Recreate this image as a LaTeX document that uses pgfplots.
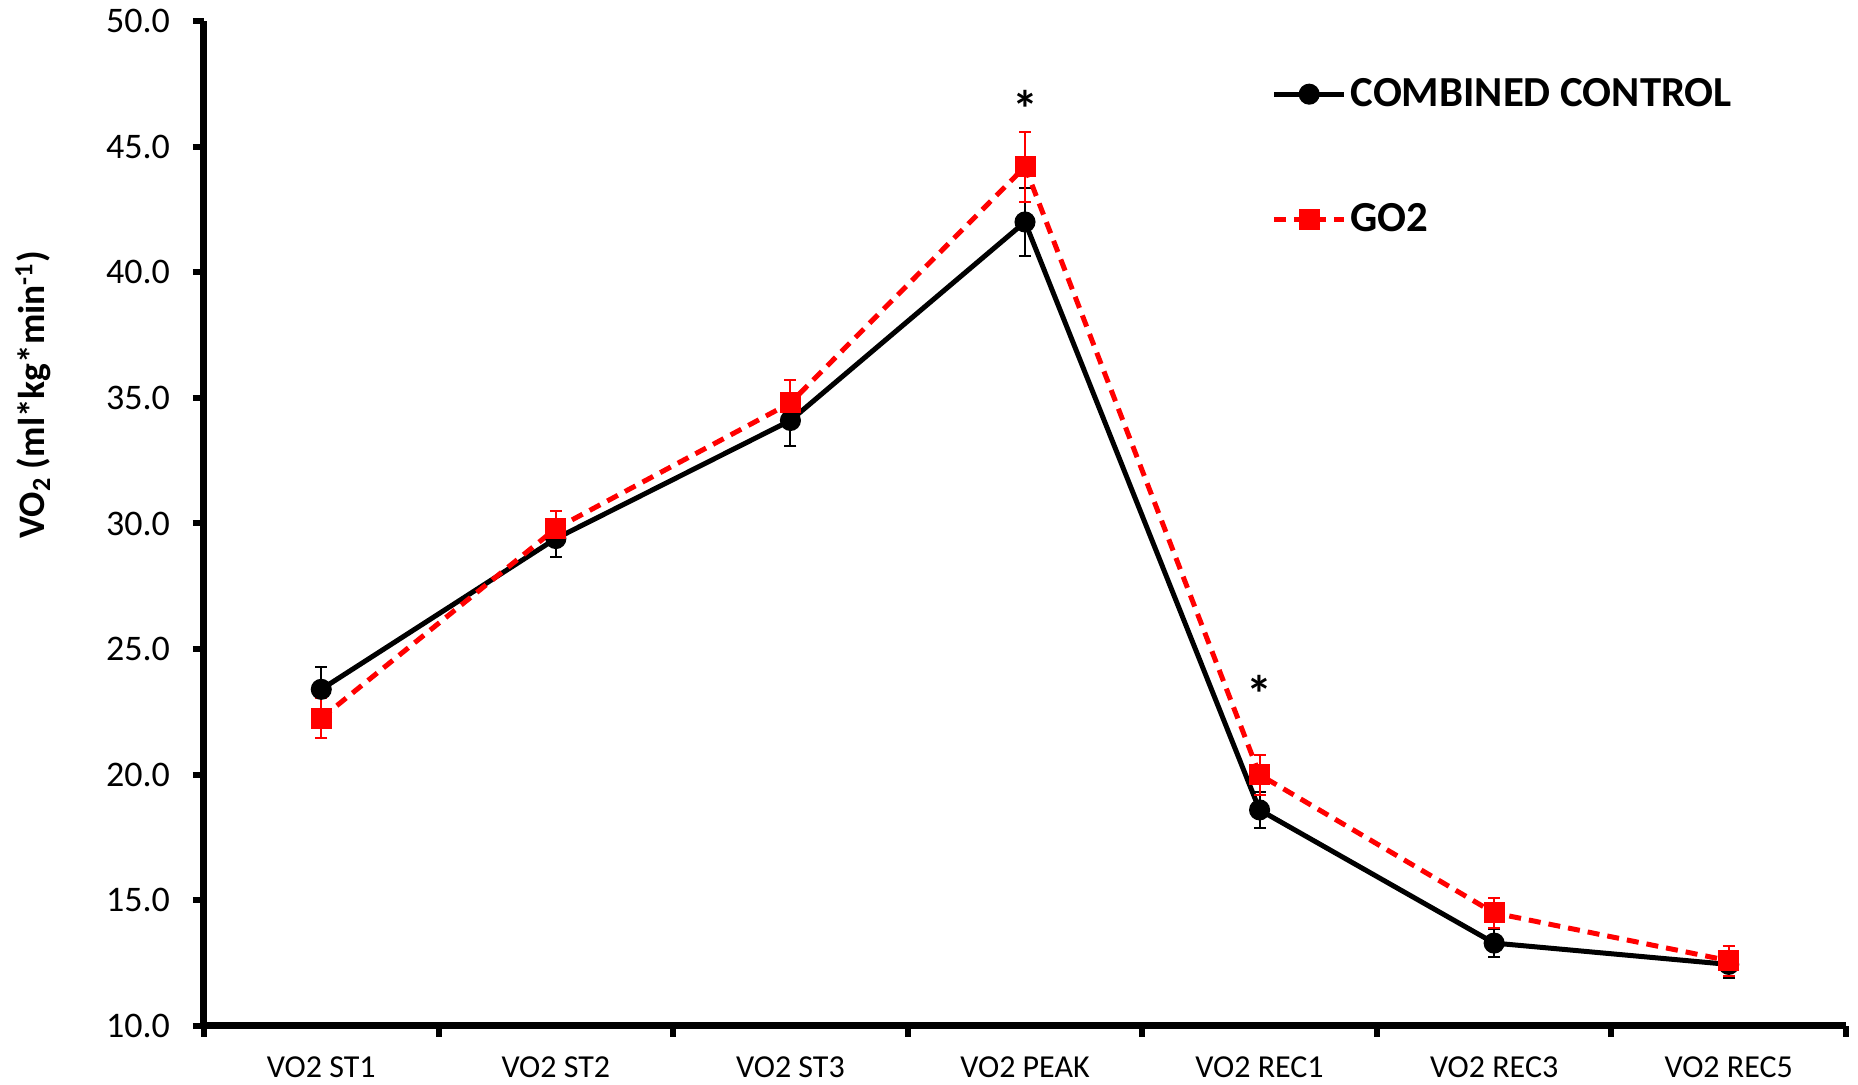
\documentclass[border=0pt]{standalone}
\usepackage{fontspec}
\setmainfont{Carlito}
\usepackage{pgfplots}
\usepackage{pgfplotstable}
\pgfplotsset{compat=1.18}

% VO2 by stage: mean and error (SEM)
\pgfplotstableread{
x  y     e
0  23.4  0.90
1  29.4  0.75
2  34.1  1.00
3  42.0  1.35
4  18.6  0.70
5  13.3  0.55
6  12.45 0.55
}\controldata

\pgfplotstableread{
x  y     e
0  22.25 0.80
1  29.8  0.70
2  34.8  0.90
3  44.2  1.40
4  20.0  0.80
5  14.5  0.60
6  12.6  0.60
}\gotwodata

\begin{document}
\begin{tikzpicture}
\path[use as bounding box] (-102pt,-29.5pt) rectangle (827pt,513pt);
\begin{axis}[
  at={(0pt,0pt)}, anchor=south west,
  scale only axis, width=821pt, height=502.5pt,
  xmin=-0.5, xmax=6.5, ymin=10, ymax=50,
  axis x line=bottom, axis y line=left,
  axis line style={line width=3.5pt, black, -},
  every outer x axis line/.append style={-},
  every outer y axis line/.append style={-},
  xtick={0,...,6},
  xticklabels={VO2 ST1, VO2 ST2, VO2 ST3, VO2 PEAK, VO2 REC1, VO2 REC3, VO2 REC5},
  minor xtick={-0.5,0.5,...,6.5},
  major x tick style={draw=none},
  ytick={10,15,...,50},
  tick align=outside,
  tick style={line width=3pt, black},
  major tick length=5.5pt, minor tick length=5.5pt,
  xticklabel style={font=\fontsize{16}{18}\selectfont, yshift=-6.5pt},
  yticklabel style={font=\fontsize{18}{20}\selectfont, xshift=-8pt},
  /pgf/number format/.cd, fixed, fixed zerofill, precision=1, assume math mode=true,
  /pgfplots/.cd,
  ylabel={\textbf{VO\textsubscript{2} (ml*kg*min\textsuperscript{-1})}},
  ylabel style={font=\fontsize{18.7}{22}\selectfont, at={(axis description cs:-0.104,0.628)}, anchor=center, rotate=0},
  legend style={at={(axis description cs:0.650,0.947)}, anchor=north west,
    draw=none, fill=none, font=\fontsize{21.4}{24}\selectfont\bfseries,
    row sep=43pt, inner sep=0pt},
  legend cell align=left,
  legend image code/.code={\draw[#1, mark repeat=2, mark phase=2]
    plot coordinates {(0pt,0pt) (17.5pt,0pt) (35pt,0pt)};},
  clip=false,
]
\addplot[black, line width=2.5pt, mark=*, mark size=4pt, mark options={solid},
  error bars/.cd, y dir=both, y explicit,
  error bar style={line width=1pt, solid, black},
  error mark options={rotate=90, mark size=3pt, line width=1pt, black}]
  table[x=x, y=y, y error=e] {\controldata};
\addlegendentry{COMBINED CONTROL}
\addplot[red, line width=2.5pt, dash pattern=on 6pt off 4pt, mark=square*, mark size=4pt, mark options={solid},
  error bars/.cd, y dir=both, y explicit,
  error bar style={line width=1pt, solid, red},
  error mark options={rotate=90, mark size=3pt, line width=1pt, red}]
  table[x=x, y=y, y error=e] {\gotwodata};
\addlegendentry{GO2}
\node[font=\fontsize{26}{28}\selectfont\bfseries] at (axis cs:3,46.5) {*};
\node[font=\fontsize{26}{28}\selectfont\bfseries] at (axis cs:4,23.2) {*};
\end{axis}
\end{tikzpicture}
\end{document}
